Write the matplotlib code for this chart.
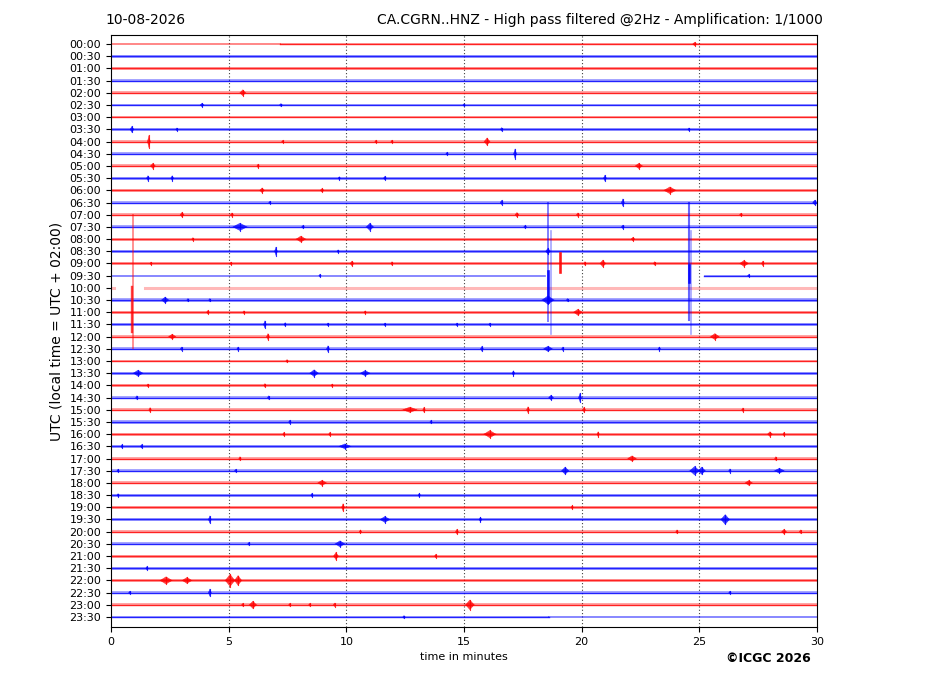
import matplotlib
matplotlib.use("Agg")
import matplotlib.pyplot as plt

# ---------------- data ----------------
row_labels = ["%02d:%02d" % (h, m) for h in range(24) for m in (0, 30)]
x_ticks = [0, 5, 10, 15, 20, 25, 30]

# background noise half-amplitude of each trace (in trace-spacing units)
noise = [0.10, 0.14, 0.11, 0.14, 0.12, 0.12, 0.10, 0.13,
         0.12, 0.13, 0.12, 0.13, 0.12, 0.13, 0.12, 0.13,
         0.12, 0.13, 0.12, 0.09, 0.12, 0.13, 0.12, 0.13,
         0.12, 0.13, 0.12, 0.13, 0.12, 0.13, 0.12, 0.13,
         0.12, 0.13, 0.12, 0.13, 0.12, 0.13, 0.12, 0.13,
         0.12, 0.13, 0.12, 0.13, 0.12, 0.13, 0.11, 0.09]

# special trace segments (row, start minute, end minute, kind); other rows are full normal traces
seg_row = [0, 0, 19, 19, 20, 20, 47, 47]
seg_start = [0.0, 7.2, 0.0, 25.2, 0.0, 1.45, 0.0, 18.6]
seg_end = [7.2, 30.0, 18.45, 30.0, 0.12, 30.0, 18.6, 30.0]
seg_kind = ["thin", "normal", "thin", "normal", "faded", "faded", "normal", "thin"]

# small events: row, minute, amplitude (trace units), half duration (minutes)
events = [
    (0, 24.8, 0.15, 0.08),
    (4, 5.6, 0.25, 0.12),
    (5, 3.87, 0.15, 0.08), (5, 7.22, 0.12, 0.06), (5, 15.0, 0.10, 0.05),
    (7, 0.89, 0.25, 0.08), (7, 2.8, 0.12, 0.05), (7, 16.6, 0.15, 0.05), (7, 24.56, 0.12, 0.05),
    (8, 1.61, 0.5, 0.06), (8, 15.98, 0.3, 0.12), (8, 11.26, 0.12, 0.05), (8, 11.94, 0.12, 0.05), (8, 7.3, 0.1, 0.05),
    (9, 14.28, 0.12, 0.05), (9, 17.17, 0.4, 0.06),
    (10, 1.78, 0.22, 0.1), (10, 6.25, 0.15, 0.05), (10, 22.43, 0.22, 0.15),
    (11, 1.57, 0.2, 0.06), (11, 2.6, 0.2, 0.06), (11, 11.64, 0.15, 0.06), (11, 20.99, 0.25, 0.06), (11, 9.7, 0.12, 0.05),
    (12, 6.42, 0.2, 0.1), (12, 8.97, 0.15, 0.08), (12, 23.75, 0.28, 0.25),
    (13, 16.6, 0.18, 0.06), (13, 21.75, 0.3, 0.06), (13, 29.9, 0.2, 0.08), (13, 6.75, 0.1, 0.05),
    (14, 3.02, 0.2, 0.08), (14, 5.14, 0.15, 0.06), (14, 17.25, 0.18, 0.08), (14, 19.84, 0.15, 0.06), (14, 26.77, 0.12, 0.06),
    (15, 5.48, 0.3, 0.3), (15, 11.0, 0.3, 0.15), (15, 8.16, 0.12, 0.06), (15, 17.6, 0.12, 0.06), (15, 21.75, 0.15, 0.06),
    (16, 8.07, 0.25, 0.2), (16, 3.48, 0.12, 0.05), (16, 22.18, 0.15, 0.08),
    (17, 7.01, 0.35, 0.06), (17, 18.57, 0.25, 0.1), (17, 9.65, 0.12, 0.05),
    (18, 1.7, 0.12, 0.05), (18, 5.1, 0.12, 0.05), (18, 10.24, 0.2, 0.08), (18, 11.94, 0.15, 0.05),
    (18, 20.14, 0.15, 0.05), (18, 20.9, 0.28, 0.12), (18, 23.1, 0.15, 0.05), (18, 26.9, 0.25, 0.18), (18, 27.7, 0.2, 0.06),
    (19, 8.88, 0.12, 0.05), (19, 27.1, 0.1, 0.05),
    (21, 2.3, 0.25, 0.15), (21, 3.27, 0.12, 0.05), (21, 4.2, 0.12, 0.05), (21, 18.57, 0.35, 0.25), (21, 19.4, 0.12, 0.05),
    (22, 4.12, 0.15, 0.06), (22, 5.65, 0.12, 0.05), (22, 10.8, 0.12, 0.05), (22, 19.84, 0.25, 0.18),
    (23, 6.54, 0.3, 0.06), (23, 7.4, 0.15, 0.05), (23, 9.22, 0.12, 0.05), (23, 11.64, 0.12, 0.05), (23, 14.7, 0.12, 0.05), (23, 16.1, 0.12, 0.05),
    (24, 2.6, 0.2, 0.15), (24, 6.67, 0.25, 0.06), (24, 25.66, 0.25, 0.18),
    (25, 3.0, 0.15, 0.05), (25, 5.4, 0.15, 0.05), (25, 9.22, 0.25, 0.06), (25, 15.76, 0.2, 0.06), (25, 18.57, 0.22, 0.18), (25, 19.2, 0.15, 0.05), (25, 23.3, 0.15, 0.05),
    (26, 7.48, 0.12, 0.05),
    (27, 1.15, 0.25, 0.2), (27, 8.63, 0.28, 0.18), (27, 10.8, 0.22, 0.2), (27, 17.1, 0.2, 0.06),
    (28, 1.57, 0.12, 0.05), (28, 6.54, 0.15, 0.05), (28, 9.4, 0.12, 0.05),
    (29, 1.1, 0.15, 0.05), (29, 6.7, 0.15, 0.05), (29, 18.7, 0.2, 0.1), (29, 19.93, 0.35, 0.06),
    (30, 1.66, 0.18, 0.05), (30, 12.7, 0.22, 0.3), (30, 13.3, 0.2, 0.05), (30, 17.72, 0.25, 0.06), (30, 20.1, 0.2, 0.06), (30, 26.85, 0.15, 0.05),
    (31, 7.6, 0.15, 0.05), (31, 13.6, 0.12, 0.05),
    (32, 7.35, 0.15, 0.05), (32, 9.3, 0.15, 0.05), (32, 16.1, 0.3, 0.25), (32, 20.7, 0.2, 0.05), (32, 28.0, 0.2, 0.1), (32, 28.6, 0.15, 0.05),
    (33, 0.47, 0.15, 0.05), (33, 1.3, 0.15, 0.05), (33, 9.94, 0.2, 0.25),
    (34, 5.48, 0.15, 0.05), (34, 22.14, 0.22, 0.18), (34, 28.25, 0.15, 0.05),
    (35, 0.3, 0.12, 0.05), (35, 5.3, 0.12, 0.05), (35, 19.3, 0.3, 0.15), (35, 24.8, 0.35, 0.2), (35, 25.1, 0.3, 0.15), (35, 26.3, 0.15, 0.05), (35, 28.4, 0.2, 0.2),
    (36, 8.97, 0.22, 0.18), (36, 27.1, 0.2, 0.15),
    (37, 0.3, 0.12, 0.05), (37, 8.54, 0.15, 0.05), (37, 13.1, 0.15, 0.05),
    (38, 9.86, 0.3, 0.06), (38, 19.6, 0.15, 0.05),
    (39, 4.2, 0.3, 0.06), (39, 11.64, 0.25, 0.2), (39, 15.7, 0.2, 0.06), (39, 26.1, 0.4, 0.18),
    (40, 10.6, 0.15, 0.05), (40, 14.7, 0.2, 0.06), (40, 24.05, 0.15, 0.05), (40, 28.6, 0.2, 0.1), (40, 29.3, 0.15, 0.05),
    (41, 5.86, 0.12, 0.05), (41, 9.73, 0.25, 0.2),
    (42, 9.56, 0.3, 0.1), (42, 13.8, 0.15, 0.05),
    (43, 1.53, 0.15, 0.05),
    (44, 2.34, 0.3, 0.25), (44, 3.23, 0.25, 0.2), (44, 5.06, 0.5, 0.2), (44, 5.4, 0.4, 0.15),
    (45, 0.8, 0.12, 0.05), (45, 4.2, 0.3, 0.06), (45, 26.3, 0.12, 0.05),
    (46, 5.6, 0.12, 0.05), (46, 6.03, 0.3, 0.15), (46, 7.6, 0.12, 0.05), (46, 8.45, 0.12, 0.05), (46, 9.5, 0.15, 0.05), (46, 15.25, 0.4, 0.18),
    (47, 12.45, 0.12, 0.05),
]
ev_row = [e[0] for e in events]
ev_min = [e[1] for e in events]
ev_amp = [e[2] for e in events]
ev_hw = [e[3] for e in events]

# large spikes: owning row, minute, top and bottom (in row units), strength 0..1
spk_row = [22, 22, 21, 21, 19, 19, 19, 19, 18]
spk_min = [0.95, 0.90, 18.55, 18.68, 18.58, 24.55, 24.65, 24.57, 19.1]
spk_top = [14.0, 19.9, 13.0, 15.3, 18.6, 13.0, 15.3, 18.1, 17.15]
spk_bot = [24.9, 23.6, 22.7, 23.8, 21.2, 22.6, 23.8, 19.5, 18.7]
spk_str = [0.45, 0.75, 0.5, 0.35, 0.9, 0.6, 0.35, 0.9, 0.9]

colors = ["#ff0000", "#0000ff"]

# ---------------- plot ----------------
fig = plt.figure(figsize=(9.27, 6.96), dpi=100)
ax = fig.add_axes([111 / 927, 1 - 627 / 696, 706 / 927, 592 / 696])

n_rows = len(row_labels)
special = {}
for r, a, b, k in zip(seg_row, seg_start, seg_end, seg_kind):
    special.setdefault(r, []).append((a, b, k))

for r in range(n_rows):
    c = colors[r % 2]
    segs = special.get(r, [(0.0, 30.0, "normal")])
    for a, b, k in segs:
        if k == "normal":
            ax.fill_between([a, b], [r - noise[r]] * 2, [r + noise[r]] * 2,
                            color=c, alpha=0.35, linewidth=0)
            ax.plot([a, b], [r, r], color=c, lw=1.0, alpha=0.8)
        elif k == "thin":
            ax.plot([a, b], [r, r], color=c, lw=1.2, alpha=0.55)
        else:
            ax.plot([a, b], [r, r], color=c, lw=2.2, alpha=0.28)

for r, m, a, w in zip(ev_row, ev_min, ev_amp, ev_hw):
    c = colors[r % 2]
    ax.fill([m - 1.3 * w, m, m + 1.3 * w, m], [r, r - 0.6 * a, r, r + 0.6 * a],
            color=c, alpha=0.35, lw=0)
    ax.fill([m - w, m, m + w, m], [r, r - a, r, r + a], color=c, alpha=0.7, lw=0.3)
    ax.plot([m, m], [r - a, r + a], color=c, lw=0.8, alpha=0.8)

for r, m, t, b, s in zip(spk_row, spk_min, spk_top, spk_bot, spk_str):
    c = colors[r % 2]
    ax.plot([m, m], [t, b], color=c, lw=0.8 + 1.2 * s, alpha=s)

for xv in x_ticks[1:-1]:
    ax.axvline(xv, color="0.25", lw=0.8, ls=(0, (1, 2)), zorder=0)

ax.set_xlim(0, 30)
ax.set_ylim(n_rows - 1 + 0.82, -0.74)
ax.set_yticks(range(n_rows))
ax.set_yticklabels(row_labels, fontsize=8)
ax.set_xticks(x_ticks)
ax.set_xticklabels([str(v) for v in x_ticks], fontsize=8)
ax.set_xlabel("time in minutes", fontsize=8)
ax.set_ylabel("UTC (local time = UTC + 02:00)", fontsize=10)

fig.text(105 / 927, 1 - 20 / 696, "10-08-2026", ha="left", va="center", fontsize=10)
fig.text(823 / 927, 1 - 20 / 696,
         "CA.CGRN..HNZ - High pass filtered @2Hz - Amplification: 1/1000",
         ha="right", va="center", fontsize=10)
fig.text(811 / 927, 1 - 658 / 696, "\u00a9ICGC 2026", ha="right", va="center",
         fontsize=9, fontweight="bold")

fig.savefig("out.png", dpi=100)
